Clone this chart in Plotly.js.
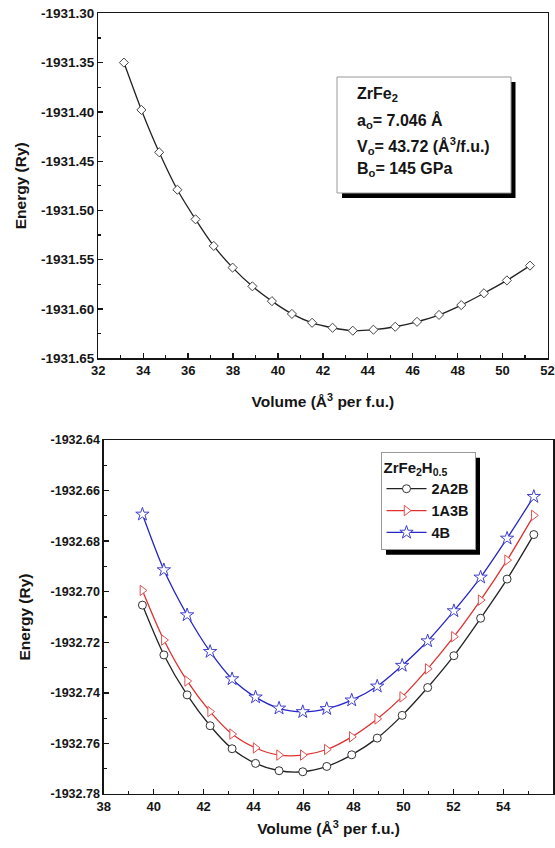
<!DOCTYPE html>
<html>
<head>
<meta charset="utf-8">
<script src="https://cdn.plot.ly/plotly-3.0.1.min.js"></script>
<style>
  html, body { margin: 0; padding: 0; background: #fff; }
  #chart { width: 555px; height: 848px; }
</style>
</head>
<body>
<div id="chart"></div>
<script>
// ---------- data ----------
const topVolume = [33.14, 33.92, 34.71, 35.52, 36.33, 37.14, 37.98, 38.86, 39.73, 40.62, 41.52,
                   42.43, 43.33, 44.25, 45.22, 46.19, 47.17, 48.16, 49.17, 50.19, 51.22];
const topEnergy = [-1931.350, -1931.398, -1931.441, -1931.479, -1931.509, -1931.536, -1931.558,
                   -1931.577, -1931.592, -1931.605, -1931.614, -1931.619, -1931.622, -1931.621,
                   -1931.618, -1931.613, -1931.606, -1931.596, -1931.584, -1931.571, -1931.556];

const bottomVolume = [39.55, 40.41, 41.34, 42.26, 43.14, 44.08, 45.02, 45.97, 46.93, 47.93,
                      48.95, 49.95, 50.97, 52.02, 53.09, 54.15, 55.22];
const energy2A2B = [-1932.7053, -1932.7250, -1932.7408, -1932.7530, -1932.7621, -1932.7679,
                    -1932.7708, -1932.7712, -1932.7691, -1932.7645, -1932.7579, -1932.7489,
                    -1932.7379, -1932.7253, -1932.7105, -1932.6950, -1932.6774];
const energy1A3B = [-1932.6995, -1932.7191, -1932.7353, -1932.7474, -1932.7563, -1932.7618,
                    -1932.7646, -1932.7646, -1932.7624, -1932.7574, -1932.7503, -1932.7416,
                    -1932.7305, -1932.7178, -1932.7033, -1932.6875, -1932.6698];
const energy4B = [-1932.6694, -1932.6914, -1932.7092, -1932.7237, -1932.7345, -1932.7417,
                  -1932.7461, -1932.7475, -1932.7463, -1932.7429, -1932.7374, -1932.7292,
                  -1932.7195, -1932.7076, -1932.6943, -1932.6789, -1932.6624];

const seriesNames = ['2A2B', '1A3B', '4B'];

const topXTickVals = [32, 34, 36, 38, 40, 42, 44, 46, 48, 50, 52];
const topXTickText = ['32', '34', '36', '38', '40', '42', '44', '46', '48', '50', '52'];
const topYTickVals = [-1931.65, -1931.60, -1931.55, -1931.50, -1931.45, -1931.40, -1931.35, -1931.30];
const topYTickText = ['-1931.65', '-1931.60', '-1931.55', '-1931.50', '-1931.45', '-1931.40', '-1931.35', '-1931.30'];

const botXTickVals = [38, 40, 42, 44, 46, 48, 50, 52, 54, 56];
const botXTickText = ['38', '40', '42', '44', '46', '48', '50', '52', '54', '56'];
const botYTickVals = [-1932.78, -1932.76, -1932.74, -1932.72, -1932.70, -1932.68, -1932.66, -1932.64];
const botYTickText = ['-1932.78', '-1932.76', '-1932.74', '-1932.72', '-1932.70', '-1932.68', '-1932.66', '-1932.64'];

const infoLines = ['ZrFe<sub>2</sub>', 'a<sub>o</sub>= 7.046 Å', 'V<sub>o</sub>= 43.72 (Å<sup>3</sup>/f.u.)', 'B<sub>o</sub>= 145 GPa'];
const legendTitle = 'ZrFe<sub>2</sub>H<sub>0.5</sub>';
const xTitle = 'Volume (Å<sup>3</sup> per f.u.)';
const yTitle = 'Energy (Ry)';

// ---------- styling ----------
const W = 555, H = 848;
const FONT = 'Arial, "Liberation Sans", sans-serif';
const INK = '#151515';
const px = v => v / W;          // pixel x -> paper
const py = v => 1 - v / H;      // pixel y -> paper
const bold = arr => arr.map(s => '<b>' + s + '</b>');

const data = [
  {
    x: topVolume, y: topEnergy, xaxis: 'x', yaxis: 'y', type: 'scatter', mode: 'lines+markers',
    showlegend: false, name: 'ZrFe2',
    line: { color: '#222', width: 1.3, shape: 'spline', smoothing: 0.8 },
    marker: { symbol: 'diamond', size: 7, color: '#fff', line: { color: '#444', width: 1 } }
  },
  {
    x: bottomVolume, y: energy2A2B, xaxis: 'x2', yaxis: 'y2', type: 'scatter', mode: 'lines+markers',
    name: '<b>' + seriesNames[0] + '</b>',
    line: { color: '#222', width: 1.3, shape: 'spline', smoothing: 0.8 },
    marker: { symbol: 'circle', size: 8, color: '#fff', line: { color: '#333', width: 1 } }
  },
  {
    x: bottomVolume, y: energy1A3B, xaxis: 'x2', yaxis: 'y2', type: 'scatter', mode: 'lines+markers',
    name: '<b>' + seriesNames[1] + '</b>',
    line: { color: '#e03030', width: 1.3, shape: 'spline', smoothing: 0.8 },
    marker: { symbol: 'triangle-right', size: 9, color: '#fff', line: { color: '#e05050', width: 1 } }
  },
  {
    x: bottomVolume, y: energy4B, xaxis: 'x2', yaxis: 'y2', type: 'scatter', mode: 'lines+markers',
    name: '<b>' + seriesNames[2] + '</b>',
    line: { color: '#2525c8', width: 1.3, shape: 'spline', smoothing: 0.8 },
    marker: { symbol: 'star', size: 10, color: '#fff', line: { color: '#4040d0', width: 1 } }
  }
];

function axisBase(tickSize) {
  return {
    showgrid: false, zeroline: false, showline: true, linecolor: INK, linewidth: 1.3, mirror: true,
    ticks: 'inside', ticklen: 5, tickwidth: 1.3, tickcolor: INK, tickmode: 'array',
    tickfont: { family: FONT, size: tickSize, color: INK, weight: 'bold' },
    automargin: false, fixedrange: true
  };
}

const layout = {
  width: W, height: H,
  margin: { l: 0, r: 0, t: 0, b: 0, pad: 0 },
  paper_bgcolor: '#fff', plot_bgcolor: '#fff',
  font: { family: FONT, color: INK },
  showlegend: true,
  xaxis: Object.assign(axisBase(13), {
    domain: [px(98.3), px(547.5)], range: [32, 52], anchor: 'y',
    tickvals: topXTickVals, ticktext: bold(topXTickText),
    minor: { tickmode: 'linear', tick0: 32, dtick: 1, ticks: 'inside', ticklen: 3, tickwidth: 1.2, tickcolor: INK },
    title: { text: '<b>' + xTitle + '</b>', font: { family: FONT, size: 15.5, color: INK, weight: 'bold' }, standoff: 19 }
  }),
  yaxis: Object.assign(axisBase(13.5), {
    domain: [py(358.3), py(13.3)], range: [-1931.65, -1931.30], anchor: 'x',
    tickvals: topYTickVals, ticktext: bold(topYTickText),
    minor: { tickmode: 'linear', tick0: -1931.65, dtick: 0.025, ticks: 'inside', ticklen: 3, tickwidth: 1.2, tickcolor: INK },
    title: { text: '<b>' + yTitle + '</b>', font: { family: FONT, size: 15.5, color: INK, weight: 'bold' }, standoff: 10 }
  }),
  xaxis2: Object.assign(axisBase(13), {
    domain: [px(103.7), px(553.3)], range: [38, 56], anchor: 'y2',
    tickvals: botXTickVals, ticktext: bold(botXTickText),
    minor: { tickmode: 'linear', tick0: 38, dtick: 1, ticks: 'inside', ticklen: 3, tickwidth: 1.2, tickcolor: INK },
    title: { text: '<b>' + xTitle + '</b>', font: { family: FONT, size: 15.5, color: INK, weight: 'bold' }, standoff: 10 }
  }),
  yaxis2: Object.assign(axisBase(12.5), {
    domain: [py(794), py(440)], range: [-1932.78, -1932.64], anchor: 'x2',
    tickvals: botYTickVals, ticktext: bold(botYTickText),
    minor: { tickmode: 'linear', tick0: -1932.78, dtick: 0.01, ticks: 'inside', ticklen: 3, tickwidth: 1.2, tickcolor: INK },
    title: { text: '<b>' + yTitle + '</b>', font: { family: FONT, size: 15.5, color: INK, weight: 'bold' }, standoff: 16 }
  }),
  legend: {
    x: px(380.5), y: py(452.3), xanchor: 'left', yanchor: 'top',
    bgcolor: '#fff', bordercolor: '#999', borderwidth: 1,
    font: { family: FONT, size: 14.5, color: INK, weight: 'bold' },
    title: { text: '<b>' + legendTitle + '</b>', font: { family: FONT, size: 15, color: INK, weight: 'bold' } },
    itemwidth: 40, tracegroupgap: 0
  },
  shapes: [
    // info box shadow + box
    { type: 'rect', xref: 'paper', yref: 'paper', x0: px(342), x1: px(515.5), y0: py(198), y1: py(82),
      fillcolor: '#000', line: { width: 0 }, layer: 'above' },
    { type: 'rect', xref: 'paper', yref: 'paper', x0: px(337), x1: px(511), y0: py(193), y1: py(77),
      fillcolor: '#fff', line: { color: '#999', width: 1 }, layer: 'above' }
  ],
  annotations: infoLines.map((t, i) => ({
    xref: 'paper', yref: 'paper', x: px(355), y: py([94, 119, 144, 167.5][i] + (i === 0 ? 0 : 2)),
    xanchor: 'left', yanchor: 'middle', showarrow: false, text: '<b>' + t + '</b>', align: 'left',
    font: { family: FONT, size: 16, color: INK, weight: 'bold' }
  }))
};

const gd = document.getElementById('chart');
Plotly.newPlot(gd, data, layout, { displayModeBar: false, staticPlot: true }).then(function () {
  const bg = gd.querySelector('.legend rect.bg');
  if (!bg) return;
  const r = bg.getBoundingClientRect();
  const g = gd.getBoundingClientRect();
  const off = 5;
  const shadow = {
    type: 'rect', xref: 'paper', yref: 'paper',
    x0: px(r.left - g.left + off), x1: px(r.right - g.left + off),
    y0: py(r.bottom - g.top + off), y1: py(r.top - g.top + off),
    fillcolor: '#000', line: { width: 0 }, layer: 'above'
  };
  return Plotly.relayout(gd, { shapes: layout.shapes.concat([shadow]) });
});
</script>
</body>
</html>
